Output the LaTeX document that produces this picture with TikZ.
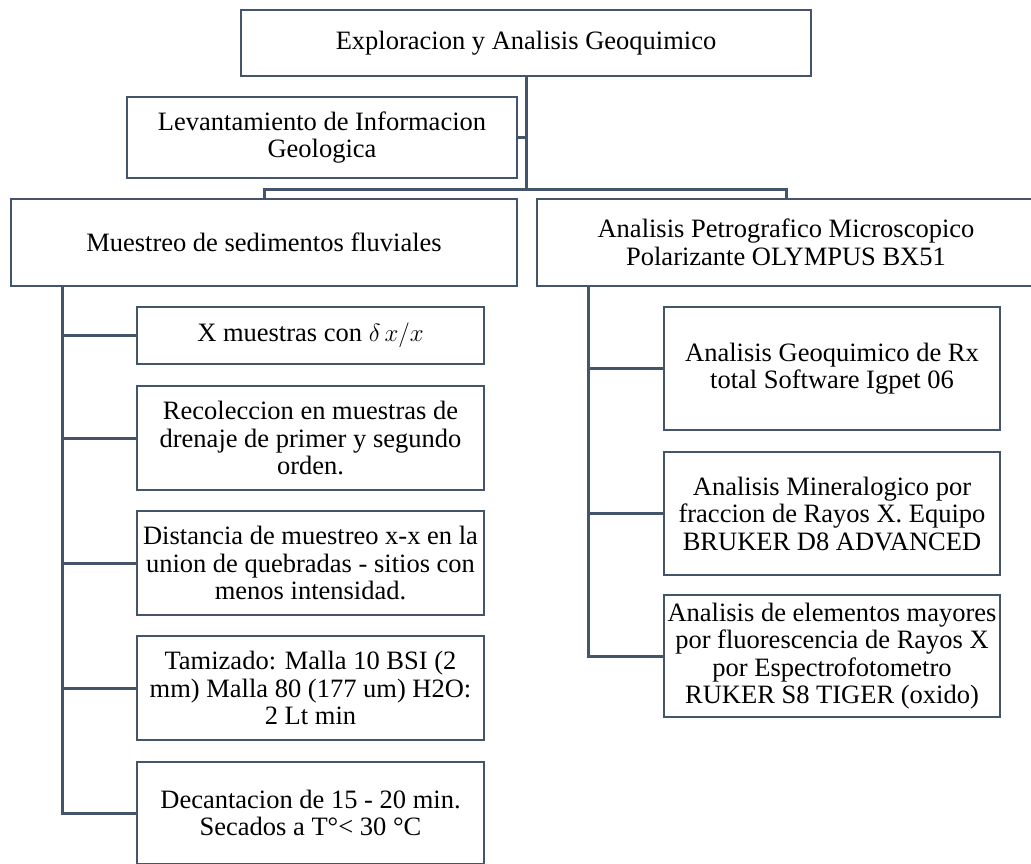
\documentclass[tikz,border=0pt]{standalone}
\usepackage{fontspec}
\setmainfont{Liberation Serif}
\definecolor{linec}{HTML}{44546A}
\tikzset{
  box/.style={draw=linec, line width=2.5pt, fill=white, align=center, inner sep=0pt,
    font=\fontsize{26.5}{27.5}\selectfont},
  conn/.style={draw=linec, line width=3pt},
}
\begin{document}
\begin{tikzpicture}[x=1pt,y=-1pt]
\useasboundingbox (0,0) rectangle (1031,863);
\clip (0,0) rectangle (1031,863);
\fill[white] (0,0) rectangle (1031,863);
% nodes
\node[box, minimum width=570pt, minimum height=66pt] (top) at (526,43) {Exploracion y Analisis Geoquimico};
\node[box, minimum width=390pt, minimum height=81pt] (lev) at (322,137.5) {Levantamiento de Informacion\\Geologica};
\node[box, minimum width=506pt, minimum height=87pt] (mue) at (264,242.5) {Muestreo de sedimentos fluviales};
\node[box, minimum width=498pt, minimum height=87pt] (pet) at (786,242.5) {Analisis Petrografico Microscopico\\Polarizante OLYMPUS BX51};
% left children
\node[box, minimum width=347pt, minimum height=57pt] (xm) at (310.5,335.5) {X muestras con $\delta\,x/x$};
\node[box, minimum width=347pt, minimum height=104pt] (rec) at (310.5,438) {Recoleccion en muestras de\\drenaje de primer y segundo\\orden.};
\node[box, minimum width=347pt, minimum height=104pt] (dis) at (310.5,563) {Distancia de muestreo x-x en la\\union de quebradas - sitios con\\menos intensidad.};
\node[box, minimum width=347pt, minimum height=104pt] (tam) at (310.5,688) {Tamizado: Malla 10 BSI (2\\mm) Malla 80 (177 um) H2O:\\2 Lt min};
\node[box, minimum width=347pt, minimum height=102pt] (dec) at (310.5,813) {Decantacion de 15 - 20 min.\\Secados a T°< 30 °C};
% right children
\node[box, minimum width=336pt, minimum height=123pt] (geo) at (832,368.5) {Analisis Geoquimico de Rx\\total Software Igpet 06};
\node[box, minimum width=336pt, minimum height=123pt] (min) at (832,513.5) {Analisis Mineralogico por\\fraccion de Rayos X. Equipo\\BRUKER D8 ADVANCED};
\node[box, minimum width=336pt, minimum height=122pt] (ele) at (832,656) {Analisis de elementos mayores\\por fluorescencia de Rayos X\\por Espectrofotometro\\RUKER S8 TIGER (oxido)};
% connectors
\coordinate (bus) at (526,189);
\coordinate (lt) at (62,286);
\coordinate (rt) at (588,286);
\draw[conn] (top.south) -- (bus);
\draw[conn] (lev.east) -- (lev.east -| top.south);
\draw[conn] (mue.north) -- (mue.north |- bus) -- (pet.north |- bus) -- (pet.north);
\draw[conn] (lt) |- (xm.west);
\draw[conn] (lt) |- (rec.west);
\draw[conn] (lt) |- (dis.west);
\draw[conn] (lt) |- (tam.west);
\draw[conn] (lt) |- (dec.west);
\draw[conn] (rt) |- (geo.west);
\draw[conn] (rt) |- (min.west);
\draw[conn] (rt) |- (ele.west);
\end{tikzpicture}
\end{document}
